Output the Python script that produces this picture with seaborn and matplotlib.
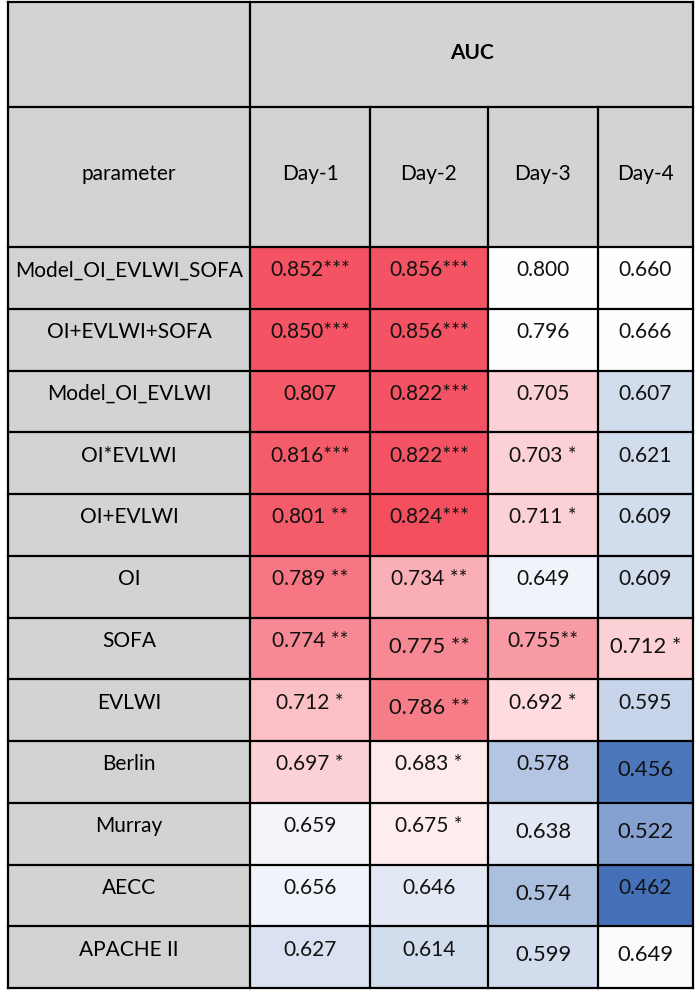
import numpy as np
import pandas as pd
import matplotlib
matplotlib.use("Agg")
import matplotlib.pyplot as plt
import seaborn as sns
from matplotlib.colors import LinearSegmentedColormap
from matplotlib.patches import Rectangle

# ---------------- data ----------------
parameters = ["Model_OI_EVLWI_SOFA", "OI+EVLWI+SOFA", "Model_OI_EVLWI", "OI*EVLWI",
              "OI+EVLWI", "OI", "SOFA", "EVLWI", "Berlin", "Murray", "AECC", "APACHE II"]
days = ["Day-1", "Day-2", "Day-3", "Day-4"]

day1 = ["0.852***", "0.850***", "0.807", "0.816***", "0.801 **", "0.789 **",
        "0.774 **", "0.712 *", "0.697 *", "0.659", "0.656", "0.627"]
day2 = ["0.856***", "0.856***", "0.822***", "0.822***", "0.824***", "0.734 **",
        "0.775 **", "0.786 **", "0.683 *", "0.675 *", "0.646", "0.614"]
day3 = ["0.800", "0.796", "0.705", "0.703 *", "0.711 *", "0.649",
        "0.755**", "0.692 *", "0.578", "0.638", "0.574", "0.599"]
day4 = ["0.660", "0.666", "0.607", "0.621", "0.609", "0.609",
        "0.712 *", "0.595", "0.456", "0.522", "0.462", "0.649"]

# colour shade of each cell (-1 deep blue, 0 white, +1 deep red)
shade1 = [0.95, 0.95, 0.92, 0.90, 0.90, 0.75, 0.65, 0.35, 0.25, -0.07, -0.08, -0.20]
shade2 = [0.95, 0.95, 0.95, 0.95, 0.97, 0.45, 0.65, 0.72, 0.12, 0.10, -0.15, -0.25]
shade3 = [0.00, 0.00, 0.25, 0.25, 0.25, -0.08, 0.55, 0.20, -0.40, -0.15, -0.45, -0.25]
shade4 = [0.00, 0.00, -0.25, -0.25, -0.25, -0.25, 0.25, -0.30, -0.95, -0.65, -1.00, -0.03]

labels = [day1, day2, day3, day4]
shades = [shade1, shade2, shade3, shade4]

# cells whose text sits vertically centred (the rest sit in the upper part)
centered = {(6, 1), (6, 3), (7, 1), (8, 3), (9, 2), (9, 3), (10, 2), (11, 2), (11, 3)}

# ---------------- layout (pixels) ----------------
W, H = 700, 998
col_edges = [8, 250, 370, 488, 598, 693]
y_top, y_h1, y_h2, y_bot = 2, 107, 247, 988
grey = "#D3D3D3"
cmap = LinearSegmentedColormap.from_list("excel", ["#4470B8", "#FFFFFF", "#F34B5B"])
FONT = ["Lato", "DejaVu Sans"]
fs = 15

fig = plt.figure(figsize=(W / 100, H / 100), dpi=100)
fig.patch.set_facecolor("white")

bg = fig.add_axes([0, 0, 1, 1])
bg.set_xlim(0, W)
bg.set_ylim(H, 0)
bg.axis("off")
# grey header + label column
bg.add_patch(Rectangle((col_edges[0], y_top), col_edges[-1] - col_edges[0], y_h2 - y_top,
                       facecolor=grey, edgecolor="none"))
bg.add_patch(Rectangle((col_edges[0], y_h2), col_edges[1] - col_edges[0], y_bot - y_h2,
                       facecolor=grey, edgecolor="none"))

def fy(y):
    return 1 - y / H

n = len(parameters)
row_h = (y_bot - y_h2) / n

for j, day in enumerate(days):
    x0, x1 = col_edges[j + 1], col_edges[j + 2]
    ax = fig.add_axes([x0 / W, fy(y_bot), (x1 - x0) / W, (y_bot - y_h2) / H])
    df = pd.DataFrame({day: shades[j]}, index=parameters)
    sns.heatmap(df, cmap=cmap, vmin=-1, vmax=1, cbar=False, annot=False,
                linewidths=0, ax=ax)
    ax.set_xticks([])
    ax.set_yticks([])
    ax.set_xlabel("")
    ax.set_ylabel("")
    for i in range(n):
        yy = i + (0.47 if (i, j) in centered else 0.38)
        size = fs + 0.8 if (i, j) in centered else fs
        ax.text(0.5, yy, labels[j][i], ha="center", va="center", fontsize=size,
                family=FONT, color="#111111")

# overlay for lines and header text
ov = fig.add_axes([0, 0, 1, 1])
ov.set_xlim(0, W)
ov.set_ylim(H, 0)
ov.axis("off")
ov.patch.set_alpha(0)
lw = 1.6
# horizontal lines
ov.plot([col_edges[0], col_edges[-1]], [y_top, y_top], color="black", lw=lw)
ov.plot([col_edges[0], col_edges[-1]], [y_h1, y_h1], color="black", lw=lw)
for i in range(n + 1):
    y = y_h2 + i * row_h
    ov.plot([col_edges[0], col_edges[-1]], [y, y], color="black", lw=lw)
# vertical lines
ov.plot([col_edges[0]] * 2, [y_top, y_bot], color="black", lw=lw)
ov.plot([col_edges[1]] * 2, [y_top, y_bot], color="black", lw=lw)
ov.plot([col_edges[-1]] * 2, [y_top, y_bot], color="black", lw=lw)
for xe in col_edges[2:-1]:
    ov.plot([xe, xe], [y_h1, y_bot], color="black", lw=lw)

ov.text((col_edges[1] + col_edges[-1]) / 2, (y_top + y_h1) / 2 - 2, "AUC", ha="center",
        va="center", fontsize=fs, fontweight="bold", family=FONT)
mid_h2 = (y_h1 + y_h2) / 2 - 3
ov.text((col_edges[0] + col_edges[1]) / 2, mid_h2, "parameter", ha="center", va="center",
        fontsize=fs, family=FONT)
for j, day in enumerate(days):
    ov.text((col_edges[j + 1] + col_edges[j + 2]) / 2, mid_h2, day, ha="center",
            va="center", fontsize=fs, family=FONT)
for i, p in enumerate(parameters):
    ov.text((col_edges[0] + col_edges[1]) / 2, y_h2 + (i + 0.38) * row_h, p,
            ha="center", va="center", fontsize=fs, family=FONT)

fig.savefig("out.png", dpi=100)
